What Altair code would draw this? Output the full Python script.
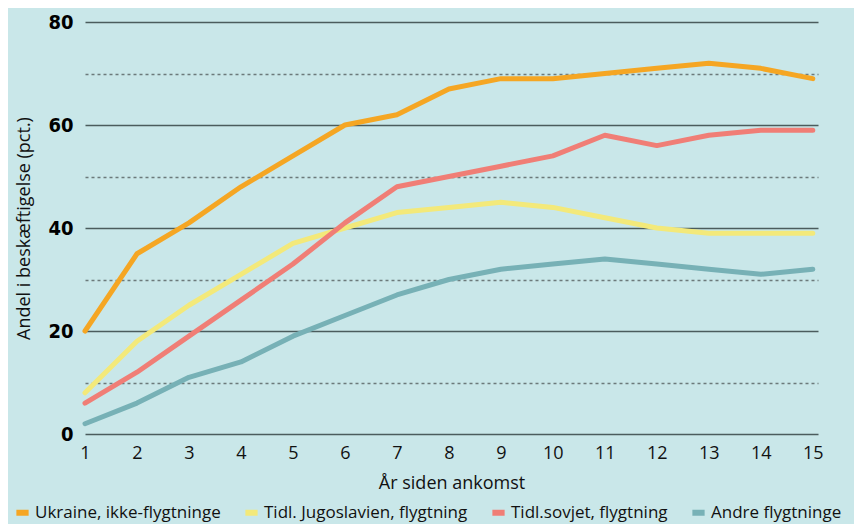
import altair as alt
import pandas as pd

years = list(range(1, 16))
series_names = ["Ukraine, ikke-flygtninge", "Tidl. Jugoslavien, flygtning",
                "Tidl.sovjet, flygtning", "Andre flygtninge"]
ukraine = [20, 35, 41, 48, 54, 60, 62, 67, 69, 69, 70, 71, 72, 71, 69]
jugoslavien = [8, 18, 25, 31, 37, 40, 43, 44, 45, 44, 42, 40, 39, 39, 39]
sovjet = [6, 12, 19, 26, 33, 41, 48, 50, 52, 54, 58, 56, 58, 59, 59]
andre = [2, 6, 11, 14, 19, 23, 27, 30, 32, 33, 34, 33, 32, 31, 32]
colors = ["#f5a623", "#f3e97a", "#f07e76", "#77b1b6"]
y_ticks = [0, 10, 20, 30, 40, 50, 60, 70, 80]

rows = []
for name, vals in zip(series_names, [ukraine, jugoslavien, sovjet, andre]):
    for yr, v in zip(years, vals):
        rows.append({"year": yr, "value": v, "series": name})
df = pd.DataFrame(rows)

chart = alt.Chart(df).mark_line(strokeWidth=5, strokeCap="round", strokeJoin="round").encode(
    x=alt.X("year:Q", scale=alt.Scale(domain=[1, 15.1], nice=False, zero=False),
            axis=alt.Axis(title="År siden ankomst", values=years, grid=False, domain=False,
                          ticks=False, labelFontSize=18, labelFont="Open Sans",
                          labelColor="#111", titleFontSize=18, titleFont="Open Sans",
                          titleFontWeight="normal", titleColor="#111", labelPadding=10,
                          titlePadding=12, labelFlush=False)),
    y=alt.Y("value:Q", scale=alt.Scale(domain=[0, 80], nice=False),
            axis=alt.Axis(title="Andel i beskæftigelse (pct.)", values=y_ticks,
                          labelExpr="datum.value % 20 === 0 ? datum.label : ''",
                          grid=True,
                          gridDash=alt.condition("datum.value % 20 === 0", alt.value([]), alt.value([3, 3])),
                          gridColor=alt.condition("datum.value % 20 === 0", alt.value("#4b5c5d"), alt.value("#6c7a7b")),
                          gridWidth=1.5,
                          domain=False, ticks=False, labelFontSize=20,
                          labelFont="DejaVu Sans Condensed", labelFontWeight="bold",
                          labelColor="#000", labelPadding=12,
                          titleFontSize=18, titleFont="Open Sans", titleFontWeight="normal",
                          titleColor="#111", titlePadding=14)),
    color=alt.Color("series:N", scale=alt.Scale(domain=series_names, range=colors),
                    legend=alt.Legend(title=None, orient="none", direction="horizontal",
                                      legendX=-72, legendY=481, symbolType="stroke",
                                      symbolStrokeWidth=6, symbolSize=150,
                                      labelFontSize=17, labelFont="Open Sans", labelLimit=0,
                                      labelColor="#111", columnPadding=12, labelOffset=3)),
).properties(
    width=733, height=412,
    background="#c9e7e9",
    padding={"left": 77, "top": 14, "right": 36, "bottom": 90},
    autosize=alt.AutoSizeParams(type="none"),
).configure_view(stroke=None)

chart.save("out.html", embed_options={"renderer": "svg", "actions": False})
